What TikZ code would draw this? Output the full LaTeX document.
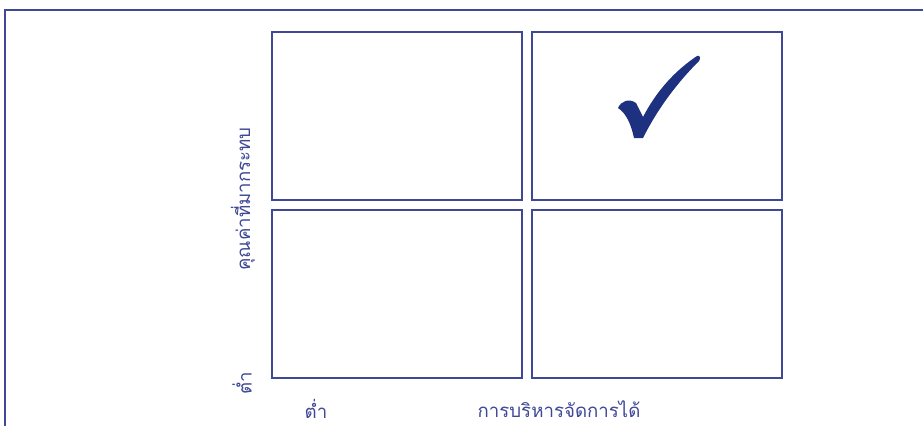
\documentclass[tikz,border=0pt]{standalone}
\usepackage{fontspec}
\newfontfamily\thaifont[Script=Thai]{Loma}
\usetikzlibrary{positioning}
\definecolor{gridblue}{RGB}{62,72,150}
\definecolor{tickblue}{RGB}{30,48,128}

\tikzset{
  cell/.style={draw=gridblue, line width=1.5pt, minimum width=187.5pt, minimum height=126pt, inner sep=0pt, outer sep=0pt},
  axislabel/.style={text=gridblue, font=\thaifont\fontsize{14}{16}\selectfont, inner sep=0pt}
}

\begin{document}
\begin{tikzpicture}[x=0.75pt, y=-0.75pt, node distance=7.5pt]
  \useasboundingbox (0,0) rectangle (923,426);
  % frame
  \draw[gridblue, line width=1.5pt] (5,426) -- (5,9.5) -- (923,9.5);
  % the four cells
  \node[cell] (topleft) at (397,116) {};
  \node[cell, right=of topleft] (topright) {};
  \node[cell, below=of topleft] (botleft) {};
  \node[cell, below=of topright] (botright) {};
  % tick
  \fill[tickblue] (618,108) .. controls (621,101) and (629,98) .. (636,103) -- (643,117)
    .. controls (657,90) and (676,70) .. (697,56) .. controls (700,55) and (701,58) .. (699,61)
    .. controls (676,84) and (657,110) .. (643,138) -- (634,138)
    .. controls (631,124) and (626,113) .. (618,108) -- cycle;
  % axis labels
  \node[axislabel, rotate=90] (ylabel) at (243,199) {คุณค่าที่มากระทบ};
  \node[axislabel, rotate=90] (ylow) at (242,383) {ต่ำ};
  \node[axislabel] (xlow) at (316,409) {ต่ำ};
  \node[axislabel] (xlabel) at (559,409) {การบริหารจัดการได้};
\end{tikzpicture}
\end{document}
